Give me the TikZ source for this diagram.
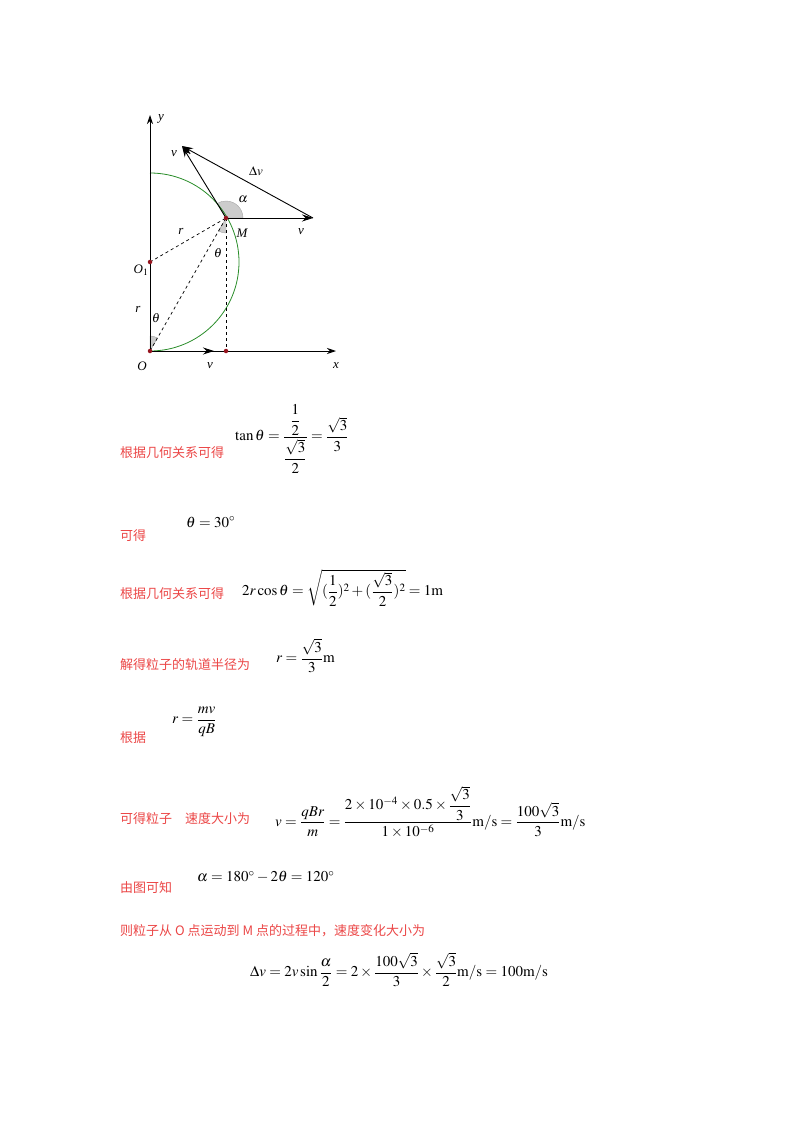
\documentclass[tikz,border=0pt]{standalone}
\usepackage{fontspec}
\usepackage{amsmath}
\usepackage{mathptmx}
\setmainfont{Liberation Serif}
\newfontfamily\cjk{Noto Sans CJK SC}
\usetikzlibrary{arrows.meta}
\definecolor{redtxt}{RGB}{235,70,70}
\definecolor{arcg}{RGB}{40,140,40}
\definecolor{dotc}{RGB}{150,20,30}
\begin{document}
\begin{tikzpicture}[x=1pt,y=-1pt,
  ax/.style={line width=0.9pt,-{Stealth[length=9pt,width=6pt]}},
  vec/.style={line width=0.9pt,-{Stealth[length=11pt,width=7pt]}},
  dsh/.style={dashed,line width=0.7pt},
  dot/.style={circle,fill=dotc,inner sep=0pt,minimum size=4.5pt},
  lab/.style={font=\fontsize{13}{15}\selectfont\itshape},
  zh/.style={anchor=base west,font=\cjk\fontsize{13}{15}\selectfont,text=redtxt,inner sep=0pt},
  eq/.style={anchor=west,font=\fontsize{15}{18}\selectfont,inner sep=0pt},
  wedge/.style={fill=gray!40,draw=gray!70,line width=0.4pt}]
\useasboundingbox (0,0) rectangle (800,1132);
% points
\coordinate (O) at (150,351);
\coordinate (O1) at (150,262);
\coordinate (M) at (226,218);
\coordinate (F) at (226,351);
\coordinate (Ytop) at (150,115);
\coordinate (Xend) at (336,351);
\coordinate (V0) at (214,351);
\coordinate (Vup) at (182,146);
\coordinate (Vr) at (313,218);
% wedges
\filldraw[wedge] (M) -- ++(0:17) arc[start angle=0,end angle=-121,radius=17] -- cycle;
\filldraw[wedge] (O) -- ++(-60:15) arc[start angle=-60,end angle=-90,radius=15] -- cycle;
\filldraw[wedge] (M) -- ++(90:15) arc[start angle=90,end angle=120,radius=15] -- cycle;
% arc
\draw[arcg,line width=0.8pt] (150,173) arc[start angle=-90,end angle=90,radius=89];
% axes
\draw[ax] (O) -- (Ytop);
\draw[ax] (O) -- (Xend);
\draw[vec] (O) -- (V0);
% dashed
\draw[dsh] (O1) -- (M);
\draw[dsh] (O) -- (M);
\draw[dsh] (M) -- (F);
% vectors
\draw[vec] (M) -- (Vup);
\draw[vec] (M) -- (Vr);
\draw[vec] (Vr) -- (Vup);
% dots
\node[dot] (dO) at (O) {};
\node[dot] (dO1) at (O1) {};
\node[dot] (dM) at (M) {};
\node[dot] (dF) at (F) {};
% labels
\node[lab] (ly) at (161,119) {y};
\node[lab] (lv1) at (174,154) {v};
\node[font=\fontsize{13}{15}\selectfont] (ldv) at (256,171) {$\Delta v$};
\node[lab] (la) at (243,199) {$\alpha$};
\node[lab] (lM) at (242,233) {M};
\node[lab] (lv2) at (301,232) {v};
\node[lab] (lr1) at (181,231) {r};
\node[lab] (lt1) at (218,253) {$\theta$};
\node[lab] (lO1) at (141,270) {O$_1$};
\node[lab] (lr2) at (138,309) {r};
\node[lab] (lt2) at (156,318) {$\theta$};
\node[lab] (lO) at (142,366) {O};
\node[lab] (lv3) at (210,366) {v};
\node[lab] (lx) at (336,366) {x};
% text
\node[zh] (t1) at (120,457) {根据几何关系可得};
\node[eq] (e1) at (235,439) {$\tan\theta=\dfrac{\;\dfrac{1}{2}\;}{\dfrac{\sqrt{3}}{2}}=\dfrac{\sqrt{3}}{3}$};
\node[zh] (t2) at (120,540) {可得};
\node[eq] (e2) at (186,522) {$\theta=30^\circ$};
\node[zh] (t3) at (120,598) {根据几何关系可得};
\node[eq] (e3) at (242,588) {$2r\cos\theta=\sqrt{(\dfrac{1}{2})^2+(\dfrac{\sqrt{3}}{2})^2}=1\mathrm{m}$};
\node[zh] (t4) at (120,669) {解得粒子的轨道半径为};
\node[eq] (e4) at (276,656) {$r=\dfrac{\sqrt{3}}{3}\mathrm{m}$};
\node[zh] (t5) at (120,742) {根据};
\node[eq] (e5) at (172,722) {$r=\dfrac{mv}{qB}$};
\node[zh] (t6) at (120,823) {可得粒子\quad 速度大小为};
\node[eq] (e6) at (275,812) {$v=\dfrac{qBr}{m}=\dfrac{2\times10^{-4}\times0.5\times\dfrac{\sqrt{3}}{3}}{1\times10^{-6}}\mathrm{m/s}=\dfrac{100\sqrt{3}}{3}\mathrm{m/s}$};
\node[zh] (t7) at (120,892) {由图可知};
\node[eq] (e7) at (197,877) {$\alpha=180^\circ-2\theta=120^\circ$};
\node[zh] (t8) at (120,935) {则粒子从 \textit{O} 点运动到 \textit{M} 点的过程中，速度变化大小为};
\node[eq] (e8) at (250,970) {$\Delta v=2v\sin\dfrac{\alpha}{2}=2\times\dfrac{100\sqrt{3}}{3}\times\dfrac{\sqrt{3}}{2}\mathrm{m/s}=100\mathrm{m/s}$};
\end{tikzpicture}
\end{document}
